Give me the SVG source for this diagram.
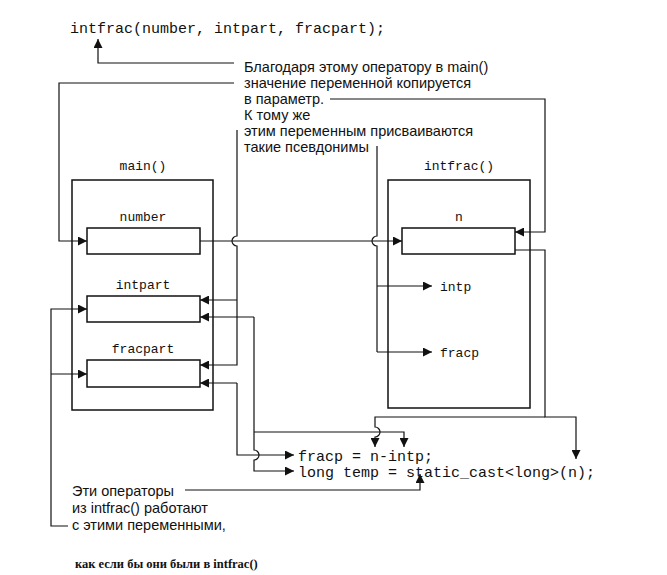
<svg xmlns="http://www.w3.org/2000/svg" width="667" height="575" viewBox="0 0 667 575">
<defs>
<marker id="a" viewBox="0 0 10 10" refX="10" refY="5" markerWidth="9" markerHeight="9" markerUnits="userSpaceOnUse" orient="auto"><path d="M0,0L10,5L0,10z" fill="#111"/></marker>
<style>
.m{font-family:"Liberation Mono",monospace;fill:#111}
.s{font-family:"Liberation Sans",Arial,sans-serif;font-size:14.5px;fill:#111}
.b{fill:#fff;stroke:#111;stroke-width:1.5}
.c{fill:none;stroke:#111;stroke-width:1.2}
.ar{marker-end:url(#a)}
</style>
</defs>
<rect width="667" height="575" fill="#fff"/>
<text class="m" x="70" y="33" font-size="15">intfrac(number, intpart, fracpart);</text>
<g id="main"><rect class="b" x="72" y="180" width="141" height="230"/><text class="m" x="143" y="170" font-size="13" text-anchor="middle">main()</text></g>
<g id="number"><rect class="b" x="87" y="228" width="113" height="26"/><text class="m" x="143" y="221" font-size="13" text-anchor="middle">number</text></g>
<g id="intpart"><rect class="b" x="87" y="296" width="113" height="26"/><text class="m" x="143" y="289" font-size="13" text-anchor="middle">intpart</text></g>
<g id="fracpart"><rect class="b" x="87" y="360" width="113" height="27"/><text class="m" x="143" y="353" font-size="13" text-anchor="middle">fracpart</text></g>
<g id="intfrac"><rect class="b" x="388" y="180" width="142" height="228"/><text class="m" x="459" y="170" font-size="13" text-anchor="middle">intfrac()</text></g>
<g id="n"><rect class="b" x="402" y="228" width="113" height="26"/><text class="m" x="459" y="221" font-size="13" text-anchor="middle">n</text></g>
<g id="intp"><text class="m" x="440" y="291" font-size="13">intp</text></g>
<g id="fracp"><text class="m" x="440" y="357" font-size="13">fracp</text></g>
<g id="code"><text class="m" x="298" y="461" font-size="15">fracp = n-intp;</text><text class="m" x="298" y="477" font-size="15">long temp = static_cast&lt;long&gt;(n);</text></g>
<g id="notes">
<text class="s" x="244" y="72">Благодаря этому оператору в main()</text>
<text class="s" x="244" y="88">значение переменной копируется</text>
<text class="s" x="244" y="104">в параметр.</text>
<text class="s" x="244" y="120">К тому же</text>
<text class="s" x="244" y="136">этим переменным присваиваются</text>
<text class="s" x="244" y="152">такие псевдонимы</text>
<text class="s" x="72" y="496">Эти операторы</text>
<text class="s" x="72" y="513">из intfrac() работают</text>
<text class="s" x="72" y="530">с этими переменными,</text>
<text x="75" y="568" font-family="Liberation Serif,serif" font-size="12.5" font-weight="bold" fill="#111">как если бы они были в intfrac()</text>
</g>
<g id="connectors">
<path class="c ar" d="M234,63H98V39"/>
<path class="c ar" d="M234,83H59V241H87"/>
<path class="c ar" d="M330,99H545V232H515"/>
<path class="c ar" d="M200,241H402"/>
<path class="c" d="M237,130V236a5,5 0 0 0 0,10V300"/>
<path class="c" d="M377,146V236a5,5 0 0 0 0,10V352"/>
<path class="c ar" d="M237,300H200"/>
<path class="c ar" d="M237,300V365H200"/>
<path class="c ar" d="M377,286H432"/>
<path class="c ar" d="M377,352H432"/>
<path class="c ar" d="M254,317H200"/>
<path class="c ar" d="M237,383H200"/>
<path class="c ar" d="M237,383V455H294"/>
<path class="c ar" d="M254,317V450a5,5 0 0 1 0,10V471H294"/>
<path class="c ar" d="M254,432H404V447"/>
<path class="c ar" d="M515,250H545V417H576V459"/>
<path class="c ar" d="M545,417H375V427a5,5 0 0 1 0,10V447"/>
<path class="c ar" d="M185,490H420V474"/>
<path class="c ar" d="M68,526H51V309H87"/>
<path class="c ar" d="M51,374H87"/>
</g>
</svg>
